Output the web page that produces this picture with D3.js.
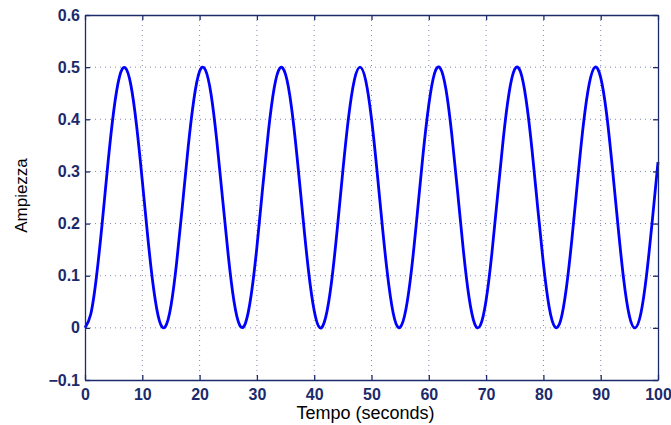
<!DOCTYPE html>
<html>
<head>
<meta charset="utf-8">
<script src="https://cdn.jsdelivr.net/npm/d3@7"></script>
<style>
  body { margin: 0; background: #fff; }
  svg { display: block; }
</style>
</head>
<body>
<div id="chart"></div>
<script>
var tempo = d3.range(0, 101);
var ampiezza = [
  0.000, 0.026, 0.098, 0.201, 0.315, 0.415, 0.481, 0.499, 0.466, 0.388,
  0.282, 0.169, 0.073, 0.013, 0.002, 0.042, 0.126, 0.234, 0.346, 0.438,
  0.492, 0.495, 0.448, 0.359, 0.249, 0.139, 0.051, 0.005, 0.009, 0.063,
  0.155, 0.268, 0.376, 0.459, 0.498, 0.486, 0.426, 0.329, 0.216, 0.110,
  0.033, 0.000, 0.020, 0.086, 0.187, 0.301, 0.404, 0.475, 0.500, 0.474,
  0.401, 0.297, 0.183, 0.084, 0.018, 0.001, 0.035, 0.113, 0.220, 0.333,
  0.428, 0.488, 0.498, 0.457, 0.372, 0.264, 0.152, 0.060, 0.008, 0.005,
  0.053, 0.142, 0.253, 0.363, 0.450, 0.496, 0.491, 0.436, 0.343, 0.231,
  0.123, 0.040, 0.002, 0.014, 0.076, 0.173, 0.286, 0.392, 0.468, 0.500,
  0.480, 0.413, 0.311, 0.198, 0.094, 0.023, 0.000, 0.027, 0.101, 0.205,
  0.318
];
var xTicks = [0, 10, 20, 30, 40, 50, 60, 70, 80, 90, 100];
var yTicks = [-0.1, 0, 0.1, 0.2, 0.3, 0.4, 0.5, 0.6];

var svgWidth = 671;
var svgHeight = 425;
var margin = { top: 15, right: 13, bottom: 45, left: 85 };
var width = svgWidth - margin.left - margin.right;
var height = svgHeight - margin.top - margin.bottom;

var axisColor = "#1b2a6b";

var svg = d3.select("#chart")
  .append("svg")
  .attr("width", svgWidth)
  .attr("height", svgHeight);

var g = svg.append("g")
  .attr("transform", `translate(${margin.left},${margin.top})`);

var xScale = d3.scaleLinear().domain([0, 100]).range([0, width]);
var yScale = d3.scaleLinear().domain([-0.1, 0.6]).range([height, 0]);

// dotted grid
g.append("g").selectAll("line").data(xTicks.slice(1, -1))
  .enter().append("line")
  .attr("x1", d => xScale(d)).attr("x2", d => xScale(d))
  .attr("y1", 0).attr("y2", height)
  .attr("stroke", "#8088b0")
  .attr("stroke-width", 1)
  .attr("stroke-dasharray", "1,4");

g.append("g").selectAll("line").data(yTicks.slice(1, -1))
  .enter().append("line")
  .attr("x1", 0).attr("x2", width)
  .attr("y1", d => yScale(d)).attr("y2", d => yScale(d))
  .attr("stroke", "#8088b0")
  .attr("stroke-width", 1)
  .attr("stroke-dasharray", "1,4");

// signal
var line = d3.line()
  .x((d, i) => xScale(tempo[i]))
  .y(d => yScale(d))
  .curve(d3.curveNatural);

g.append("path")
  .datum(ampiezza)
  .attr("fill", "none")
  .attr("stroke", "#0000ff")
  .attr("stroke-width", 2.8)
  .attr("stroke-linejoin", "round")
  .attr("d", line);

// axes, ticks inward
var fmtY = d => d < 0 ? "\u2212" + Math.abs(d) : String(d);

var bottomAxis = d3.axisBottom(xScale).tickValues(xTicks).tickSizeInner(-5).tickSizeOuter(0).tickPadding(9);
var topAxis = d3.axisTop(xScale).tickValues(xTicks).tickSizeInner(-5).tickSizeOuter(0).tickFormat("");
var leftAxis = d3.axisLeft(yScale).tickValues(yTicks).tickSizeInner(-5).tickSizeOuter(0).tickPadding(5).tickFormat(fmtY);
var rightAxis = d3.axisRight(yScale).tickValues(yTicks).tickSizeInner(-5).tickSizeOuter(0).tickFormat("");

var axes = [
  g.append("g").attr("transform", `translate(0,${height})`).call(bottomAxis),
  g.append("g").call(topAxis),
  g.append("g").call(leftAxis),
  g.append("g").attr("transform", `translate(${width},0)`).call(rightAxis)
];

axes.forEach(function(a) {
  a.selectAll("path, line").attr("stroke", axisColor).attr("stroke-width", 1.3);
  a.selectAll("text")
    .attr("fill", axisColor)
    .attr("font-family", "Liberation Sans, Arial, sans-serif")
    .attr("font-weight", "bold")
    .attr("font-size", "16px");
});

// labels
g.append("text")
  .attr("x", width / 2 - 6)
  .attr("y", height + 39)
  .attr("text-anchor", "middle")
  .attr("font-family", "Liberation Sans, Arial, sans-serif")
  .attr("font-size", "18px")
  .attr("fill", "#000")
  .text("Tempo (seconds)");

g.append("text")
  .attr("transform", `translate(${-58},${height / 2 - 2}) rotate(-90)`)
  .attr("text-anchor", "middle")
  .attr("font-family", "Liberation Sans, Arial, sans-serif")
  .attr("font-size", "17px")
  .attr("fill", "#000")
  .text("Ampiezza");
</script>
</body>
</html>
